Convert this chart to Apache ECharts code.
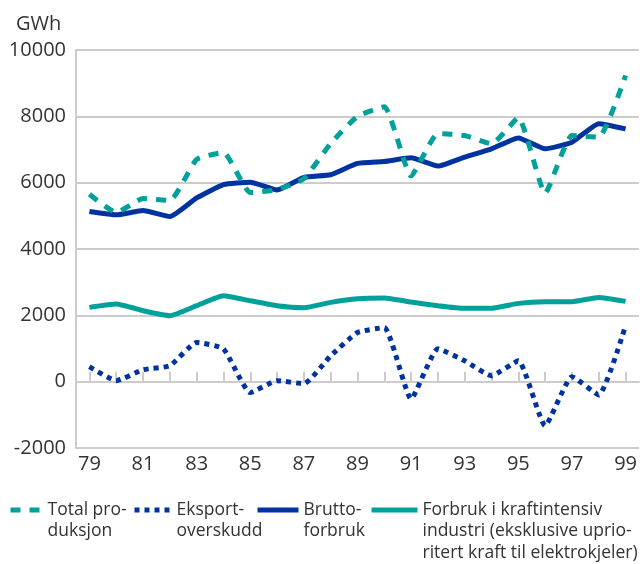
<!DOCTYPE html>
<html>
<head>
<meta charset="utf-8">
<script src="https://cdn.jsdelivr.net/npm/echarts@6/dist/echarts.min.js"></script>
<style>
  html, body { margin: 0; padding: 0; background: #fff; }
  #chart { width: 640px; height: 564px; }
</style>
</head>
<body>
<div id="chart"></div>
<script>
// years on the x axis
const years = ['79','80','81','82','83','84','85','86','87','88','89','90','91','92','93','94','95','96','97','98','99'];

// GWh values
const totalProduksjon = [5650, 5100, 5520, 5460, 6700, 6910, 5700, 5790, 6120, 7180, 8000, 8290, 6200, 7480, 7420, 7170, 7960, 5680, 7420, 7370, 9230];
const eksportOverskudd = [450, 30, 360, 480, 1180, 990, -330, 30, -60, 780, 1480, 1630, -520, 990, 630, 180, 630, -1330, 150, -400, 1690];
const bruttoForbruk = [5130, 5030, 5160, 4980, 5540, 5940, 6010, 5780, 6160, 6240, 6580, 6640, 6750, 6500, 6770, 7020, 7350, 7020, 7220, 7780, 7620];
const kraftintensiv = [2240, 2340, 2140, 1990, 2290, 2590, 2440, 2290, 2230, 2390, 2500, 2520, 2400, 2290, 2210, 2210, 2360, 2410, 2410, 2540, 2420];

const names = [
  'Total pro-\nduksjon',
  'Eksport-\noverskudd',
  'Brutto-\nforbruk',
  'Forbruk i kraftintensiv\nindustri (eksklusive uprio-\nritert kraft til elektrokjeler)'
];

const teal = '#00a19a';
const blue = '#0033a0';
const font = 'Open Sans';
const lh = 21.5;

const chart = echarts.init(document.getElementById('chart'));

// one legend per item so the icon sits on the first text line
function legendFor(name, left, width) {
  const lines = name.split('\n').length;
  const total = 2 * lines - 1;
  return {
    data: [name],
    left: left,
    top: 510 - total * lh / 2,
    padding: 0,
    itemWidth: width,
    itemHeight: 14,
    itemStyle: { opacity: 0 },
    lineStyle: { width: 5 },
    formatter: n => '\n'.repeat(lines - 1) + n,
    textStyle: { fontFamily: font, fontSize: 17.5, color: '#333', lineHeight: lh }
  };
}

chart.setOption({
  animation: false,
  title: {
    text: 'GWh',
    left: 11,
    top: 9,
    textStyle: { fontFamily: font, fontSize: 20, fontWeight: 'normal', color: '#333' }
  },
  grid: { left: 76, right: 1, top: 50, bottom: 116 },
  legend: [
    legendFor(names[0], 8, 32),
    legendFor(names[1], 132, 37),
    legendFor(names[2], 255, 41),
    legendFor(names[3], 369, 46)
  ],
  xAxis: {
    type: 'category',
    data: years,
    boundaryGap: true,
    axisLine: { lineStyle: { color: '#cccccc', width: 2 } },
    axisTick: {
      show: true, inside: true, length: 10, alignWithLabel: true, interval: 0,
      lineStyle: { color: '#cccccc', width: 2 }
    },
    axisLabel: { interval: 1, margin: 6, fontFamily: font, fontSize: 20, color: '#333' }
  },
  yAxis: {
    type: 'value',
    min: -2000,
    max: 10000,
    interval: 2000,
    axisLine: { show: true, lineStyle: { color: '#cccccc', width: 2 } },
    axisTick: { show: false },
    axisLabel: { margin: 10, fontFamily: font, fontSize: 20, color: '#333', formatter: v => String(v) },
    splitLine: {
      lineStyle: {
        color: ['#cccccc', '#aaaaaa', '#cccccc', '#cccccc', '#cccccc', '#cccccc', '#cccccc'],
        width: 2
      }
    }
  },
  series: [
    {
      name: names[3],
      type: 'line',
      data: kraftintensiv,
      symbol: 'none',
      smooth: 0.15,
      lineStyle: { color: teal, width: 5 },
      itemStyle: { color: teal }
    },
    {
      name: names[1],
      type: 'line',
      data: eksportOverskudd,
      symbol: 'none',
      smooth: 0.15,
      lineStyle: { color: blue, width: 5, type: [5, 5] },
      itemStyle: { color: blue }
    },
    {
      name: names[2],
      type: 'line',
      data: bruttoForbruk,
      symbol: 'none',
      smooth: 0.15,
      lineStyle: { color: blue, width: 5 },
      itemStyle: { color: blue }
    },
    {
      name: names[0],
      type: 'line',
      data: totalProduksjon,
      symbol: 'none',
      smooth: 0.15,
      lineStyle: { color: teal, width: 5, type: [10, 9] },
      itemStyle: { color: teal }
    }
  ]
});
</script>
</body>
</html>
